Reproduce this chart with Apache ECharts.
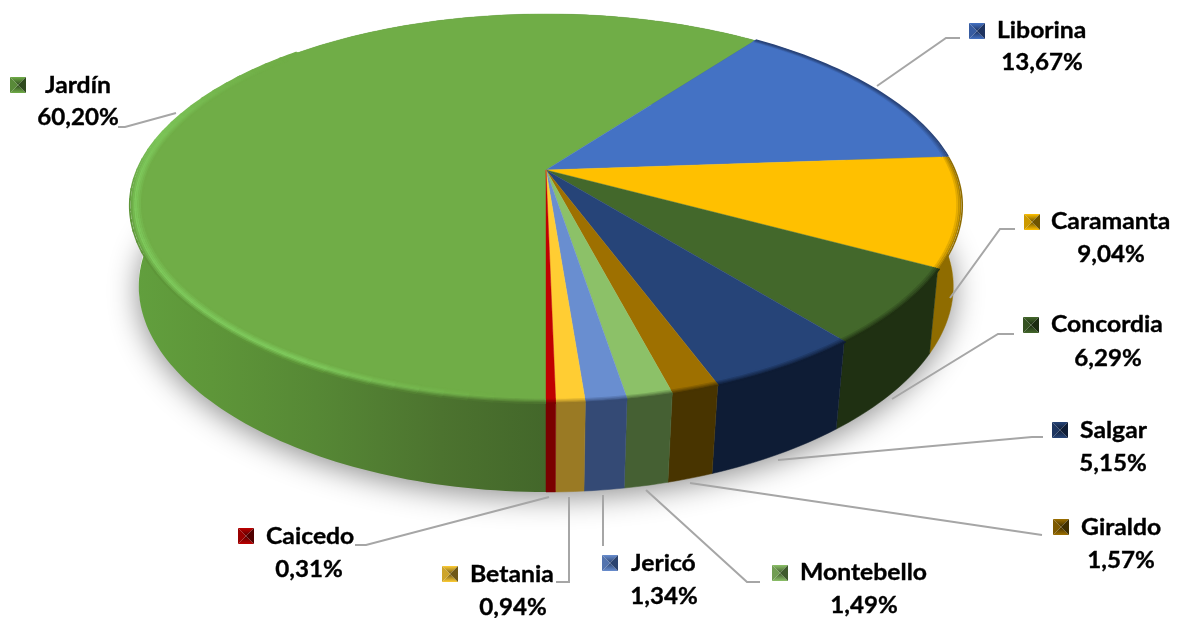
<!DOCTYPE html>
<html><head><meta charset="utf-8">
<style>html,body{margin:0;padding:0;background:#fff}#c{width:1177px;height:618px}</style>
<script src="https://cdn.jsdelivr.net/npm/echarts@6/dist/echarts.min.js"></script>
</head><body><div id="c"></div>
<script>
const categories=['Jardín','Liborina','Caramanta','Concordia','Salgar','Giraldo','Montebello','Jericó','Betania','Caicedo'];
const values=[60.20,13.67,9.04,6.29,5.15,1.57,1.49,1.34,0.94,0.31];
const valueLabels=['60,20%','13,67%','9,04%','6,29%','5,15%','1,57%','1,49%','1,34%','0,94%','0,31%'];
const topColors=['#70AD47','#4472C4','#FFC000','#43682B','#264478','#9E7000','#8CC168','#698ED0','#FFCD33','#C00000'];
const sideColors=['#436A2A','#29447A','#8F6C00','#1F3012','#0E1C35','#483400','#456033','#344A75','#9A7A24','#7A0000'];
const keyDark=['#2F4A1E','#1E3360','#6F5400','#1A2A10','#0E1C35','#3F2E00','#3F5A2D','#2C4470','#6F5818','#500000'];
// label layout: key x, key y, name x, name y, percent centre x, percent y
const labelPos=[[10,77,45,86,78,118],[969,23,997,31,1042,63],[1024,214,1051,222,1111,255],[1023,317,1051,325,1108,359],[1052,422,1080,431,1113,464],[1053,519,1081,528,1121,561],[772,565,800,573,864,606],[602,555,631,564,664,597],[442,566,470,575,513,608],[238,528,266,537,309,570]];
const leaders=[
[[176,113],[125,127],[118,127]],
[[877,86],[946,38],[960,38]],
[[950,298],[1000,229],[1015,229]],
[[892,399],[998,334],[1014,334]],
[[778,460],[1032,437],[1043,437]],
[[690,483],[1042,535]],
[[646,490],[747,582],[760,582]],
[[603,495],[603,546]],
[[569,497],[569,582],[556,582]],
[[549,497],[366,545],[355,545]]
];
// projection of the tilted disc
const AX=546,AY=170,A=407.9,B=188.5,K=-0.208,DEPTH=84;
function proj(deg,r,lower){
  const t=deg*Math.PI/180,u=r*Math.sin(t),v=-r*Math.cos(t),w=1+K*v;
  const x=A*u/w,y=B*v/w;
  if(!lower) return [AX+x,AY+y];
  const s=v>0?0.985-0.045*v:0.985;
  return [AX+x*s,AY+y+DEPTH];
}
// visible top face stops slightly short of the rim along the front
function rimR(deg){
  const d=Math.abs(((deg%360)+360)%360-180);
  const t=Math.min(1,Math.max(0,(100-d)/60));
  return 1-0.02*t*t*(3-2*t);
}
const total=values.reduce((a,b)=>a+b,0);
const START=180;
const starts=[];values.reduce((acc,v,i)=>{starts[i]=acc;return acc+v;},0);
function range(i){const a=START+starts[i]/total*360;return [a,a+values[i]/total*360];}
function arc(a,b,dr,lower){const n=Math.max(2,Math.ceil((b-a)/1.2));const p=[];for(let i=0;i<=n;i++){const g=a+(b-a)*i/n;p.push(proj(g,lower?1:rimR(g)+dr,lower));}return p;}
const data=values.map((v,i)=>({name:categories[i],value:v}));
function hex(c){return [1,3,5].map(k=>parseInt(c.substr(k,2),16));}
function mix(a,b,t){const x=hex(a),y=hex(b);return 'rgb('+x.map((q,i)=>Math.round(q+(y[i]-q)*t)).join(',')+')';}
function clamp(x){return Math.min(1,Math.max(0,x));}

const shadowSeries={type:'custom',coordinateSystem:'none',silent:true,z:1,data:[0],renderItem(){
  const pts=arc(0,360,0,true).map(p=>[p[0],p[1]-2]);
  return {type:'polygon',shape:{points:pts},style:{fill:'#fff',shadowBlur:30,shadowColor:'rgba(0,0,0,0.45)',shadowOffsetY:7}};
}};
const sideSeries={type:'custom',coordinateSystem:'none',silent:true,z:2,data,renderItem(p,api){
  const i=p.dataIndex;const [a,b]=range(i);
  const top=arc(a,b,0,false),bot=arc(a,b,0,true).reverse();
  let fill=sideColors[i];
  if(i===0){fill={type:'linear',global:true,x:128,y:0,x2:546,y2:0,colorStops:[{offset:0,color:'#62A03E'},{offset:.2,color:'#5E9639'},{offset:.45,color:'#568835'},{offset:.75,color:'#4C732F'},{offset:1,color:'#43672A'}]};}
  return {type:'polygon',shape:{points:top.concat(bot)},style:{fill,stroke:i===0?'none':fill,lineWidth:.5}};
}};
const topSeries={type:'custom',coordinateSystem:'none',silent:true,z:3,data,renderItem(p,api){
  const i=p.dataIndex;const [a,b]=range(i);
  const pts=[proj(0,0,false)].concat(arc(a,b,0,false));
  return {type:'polygon',shape:{points:pts},style:{fill:topColors[i],stroke:topColors[i],lineWidth:.4}};
}};
// soft blend between top face and side along the front edge
const BANDS=[-.024,-.02,-.016,-.012,-.008,-.004,0,.004];
const HIGHLIGHT='#80CC5E';
const blendSeries={type:'custom',coordinateSystem:'none',silent:true,z:4,data,renderItem(p){
  const i=p.dataIndex;const [a,b]=range(i);const ch=[];
  if(i===0){
    const step=3,base=hex('#70AD47'),hi=hex(HIGHLIGHT),outer=hex('#5E9639'),dark=hex('#4C732F');
    for(let g=a;g<315;g+=step){
      const m=g+step/2;
      const f=clamp((m-186)/24)*clamp((312-m)/45);
      const back=clamp((280-m)/20);          // no dark fringe toward the back
      BANDS.forEach((dr,k)=>{
        const t=k/(BANDS.length-1);
        if(t<.45&&f<.02)return;
        const plain=t<.45?base:base.map((q,n)=>q+(dark[n]-q)*((t-.45)/.55)*back);
        const bright=t<.55?base.map((q,n)=>q+(hi[n]-q)*(t/.55)):hi.map((q,n)=>q+(outer[n]-q)*((t-.55)/.45)*back);
        const c=plain.map((q,n)=>Math.round(q+(bright[n]-q)*f));
        ch.push({type:'polyline',shape:{points:arc(g,g+step+.6,dr,false)},style:{stroke:'rgb('+c.join(',')+')',lineWidth:1.7,fill:'none'}});
      });
    }
  } else {
    BANDS.slice(3).forEach((dr,k)=>{
      const t=k/4;
      ch.push({type:'polyline',shape:{points:arc(a,b,dr,false)},style:{stroke:mix(topColors[i],sideColors[i],t),lineWidth:1.6,fill:'none'}});
    });
  }
  return {type:'group',children:ch};
}};
const leaderSeries={type:'custom',coordinateSystem:'none',silent:true,z:5,data,renderItem(p){
  return {type:'polyline',shape:{points:leaders[p.dataIndex]},style:{stroke:'#A6A6A6',lineWidth:2,fill:'none'}};
}};
const FONT='Lato';
const labelSeries={type:'custom',coordinateSystem:'none',silent:true,z:6,data,renderItem(p){
  const i=p.dataIndex,[kx,ky,nx,ny,px,py]=labelPos[i],s=16,c=topColors[i],d=keyDark[i];
  const cx=kx+s/2,cy=ky+s/2;
  const grad=(x,y,x2,y2,c1,c2)=>({type:'linear',global:true,x,y,x2,y2,colorStops:[{offset:0,color:c1},{offset:1,color:c2}]});
  const tri=(a,b,f)=>({type:'polygon',shape:{points:[a,b,[cx,cy]]},style:{fill:f}});
  const tl=[kx,ky],tr=[kx+s,ky],br=[kx+s,ky+s],bl=[kx,ky+s];
  const txt=(t,x,y,al,sx)=>({type:'text',x,y,scaleX:sx,style:{text:t,x:0,y:0,align:al,verticalAlign:'middle',fill:'#000',stroke:'#000',lineWidth:.35,font:'bold 23px '+FONT}});
  return {type:'group',children:[
    tri(tl,tr,grad(cx,ky,cx,cy,c,d)),tri(bl,br,grad(cx,ky+s,cx,cy,c,d)),tri(tl,bl,mix(c,d,.35)),tri(tr,br,d),
    txt(categories[i],nx,ny,'left',1.075),txt(valueLabels[i],px,py,'center',1.05)
  ]};
}};
const chart=echarts.init(document.getElementById('c'),null,{renderer:'canvas'});
chart.setOption({animation:false,backgroundColor:'#fff',series:[shadowSeries,sideSeries,topSeries,blendSeries,leaderSeries,labelSeries]});
</script></body></html>
